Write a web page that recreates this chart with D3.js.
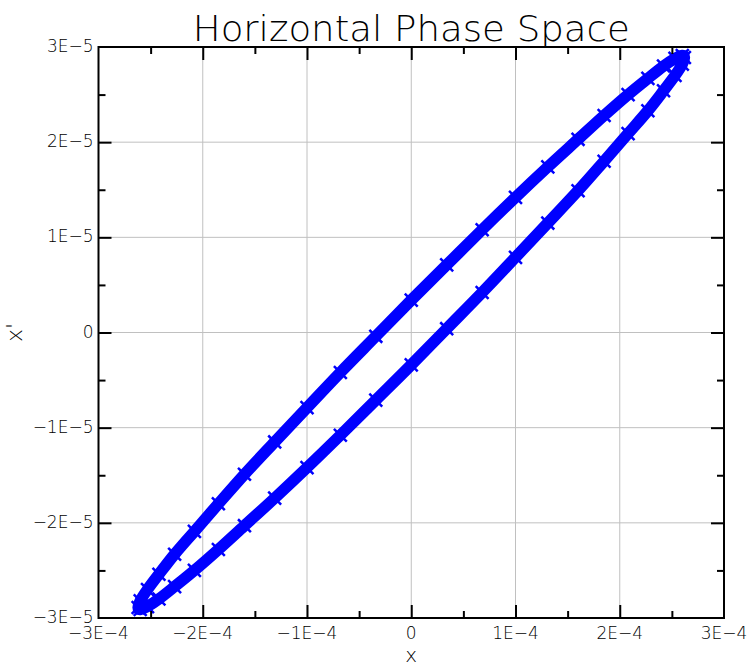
<!DOCTYPE html>
<html>
<head>
<meta charset="utf-8">
<script src="https://cdn.jsdelivr.net/npm/d3@7"></script>
<style>
  body { margin: 0; background: #fff; }
  svg { display: block; }
  text { font-family: "DejaVu Sans", sans-serif; font-weight: 200; fill: #000; }
</style>
</head>
<body>
<script>
// phase space points, x in units of 1E-4, x' in units of 1E-5
var xVals = [2.62, 2.60, 2.53, 2.42, 2.27, 2.08, 1.85, 1.60, 1.31, 1.00, 0.68, 0.34, 0.00, -0.34, -0.68, -1.00, -1.31, -1.60, -1.85, -2.08, -2.27, -2.42, -2.53, -2.60,
             -2.62, -2.60, -2.53, -2.42, -2.27, -2.08, -1.85, -1.60, -1.31, -1.00, -0.68, -0.34, 0.00, 0.34, 0.68, 1.00, 1.31, 1.60, 1.85, 2.08, 2.27, 2.42, 2.53, 2.60];
var xpVals = [2.89, 2.82, 2.70, 2.54, 2.33, 2.09, 1.80, 1.49, 1.15, 0.79, 0.42, 0.04, -0.34, -0.71, -1.08, -1.42, -1.74, -2.03, -2.28, -2.50, -2.67, -2.80, -2.88, -2.91,
              -2.89, -2.82, -2.70, -2.54, -2.33, -2.09, -1.80, -1.49, -1.15, -0.79, -0.42, -0.04, 0.34, 0.71, 1.08, 1.42, 1.74, 2.03, 2.28, 2.50, 2.67, 2.80, 2.88, 2.91];

var xTicks = [-3, -2, -1, 0, 1, 2, 3];
var xTickLabels = ["\u22123E\u22124", "\u22122E\u22124", "\u22121E\u22124", "0", "1E\u22124", "2E\u22124", "3E\u22124"];
var yTicks = [-3, -2, -1, 0, 1, 2, 3];
var yTickLabels = ["\u22123E\u22125", "\u22122E\u22125", "\u22121E\u22125", "0", "1E\u22125", "2E\u22125", "3E\u22125"];
var minorTicks = [-2.5, -1.5, -0.5, 0.5, 1.5, 2.5];

var width = 750, height = 668,
    pLeft = 98.5, pRight = 724, pTop = 47, pBottom = 618;

var svg = d3.select("body").append("svg")
    .attr("width", width)
    .attr("height", height);

var x = d3.scaleLinear().domain([-3, 3]).range([pLeft, pRight]);
var y = d3.scaleLinear().domain([-3, 3]).range([pBottom, pTop]);

// grid
svg.append("g").selectAll("line")
  .data(xTicks.slice(1, -1))
  .enter().append("line")
    .attr("x1", x).attr("x2", x)
    .attr("y1", pTop).attr("y2", pBottom)
    .attr("stroke", "#c0c0c0").attr("stroke-width", 1);
svg.append("g").selectAll("line")
  .data(yTicks.slice(1, -1))
  .enter().append("line")
    .attr("x1", pLeft).attr("x2", pRight)
    .attr("y1", y).attr("y2", y)
    .attr("stroke", "#c0c0c0").attr("stroke-width", 1);

// data
var pts = xVals.map(function(v, i) { return [v, xpVals[i]]; });
var line = d3.line()
    .x(function(d) { return x(d[0]); })
    .y(function(d) { return y(d[1]); })
    .curve(d3.curveCardinalClosed);

svg.append("path")
    .datum(pts)
    .attr("d", line)
    .attr("fill", "none")
    .attr("stroke", "#0000ff")
    .attr("stroke-width", 11.5)
    .attr("stroke-linejoin", "round");

var sym = d3.symbol().type(d3.symbolTimes || d3.symbolX).size(110);
svg.append("g").selectAll("path")
  .data(pts)
  .enter().append("path")
    .attr("d", sym)
    .attr("transform", function(d) { return "translate(" + x(d[0]) + "," + y(d[1]) + ")"; })
    .attr("fill", "none")
    .attr("stroke", "#0000ff")
    .attr("stroke-width", 2.5);

// axes, ticks inward on all four sides
var major = 13, minor = 7;
var axes = [
  { ax: d3.axisBottom(x), tr: "translate(0," + pTop + ")" },
  { ax: d3.axisTop(x), tr: "translate(0," + pBottom + ")" },
  { ax: d3.axisRight(y), tr: "translate(" + pLeft + ",0)" },
  { ax: d3.axisLeft(y), tr: "translate(" + pRight + ",0)" }
];
axes.forEach(function(a) {
  var g1 = svg.append("g").attr("transform", a.tr)
    .call(a.ax.tickValues(xTicks.slice(1, -1)).tickSize(major).tickFormat(""));
  g1.select(".domain").remove();
  g1.selectAll("line").attr("stroke", "#000").attr("stroke-width", 2);
  var g2 = svg.append("g").attr("transform", a.tr)
    .call(a.ax.tickValues(minorTicks).tickSize(minor).tickFormat(""));
  g2.select(".domain").remove();
  g2.selectAll("line").attr("stroke", "#000").attr("stroke-width", 2);
});

// frame
svg.append("rect")
    .attr("x", pLeft).attr("y", pTop)
    .attr("width", pRight - pLeft).attr("height", pBottom - pTop)
    .attr("fill", "none").attr("stroke", "#000").attr("stroke-width", 2);

// tick labels
svg.append("g").selectAll("text")
  .data(xTicks)
  .enter().append("text")
    .attr("x", x)
    .attr("y", pBottom + 21)
    .attr("text-anchor", "middle")
    .style("font-size", "17px")
    .text(function(d, i) { return xTickLabels[i]; });

svg.append("g").selectAll("text")
  .data(yTicks)
  .enter().append("text")
    .attr("x", pLeft - 5)
    .attr("y", y)
    .attr("dy", "0.3em")
    .attr("text-anchor", "end")
    .style("font-size", "17px")
    .text(function(d, i) { return yTickLabels[i]; });

// title and axis labels
svg.append("text")
    .attr("x", (pLeft + pRight) / 2)
    .attr("y", 41)
    .attr("text-anchor", "middle")
    .attr("textLength", 437)
    .attr("lengthAdjust", "spacingAndGlyphs")
    .style("font-size", "36px")
    .text("Horizontal Phase Space");

svg.append("text")
    .attr("x", (pLeft + pRight) / 2)
    .attr("y", 662)
    .attr("text-anchor", "middle")
    .style("font-size", "20px")
    .text("x");

svg.append("text")
    .attr("transform", "translate(22," + ((pTop + pBottom) / 2) + ") rotate(-90)")
    .attr("text-anchor", "middle")
    .style("font-size", "22px")
    .text("x'");
</script>
</body>
</html>
